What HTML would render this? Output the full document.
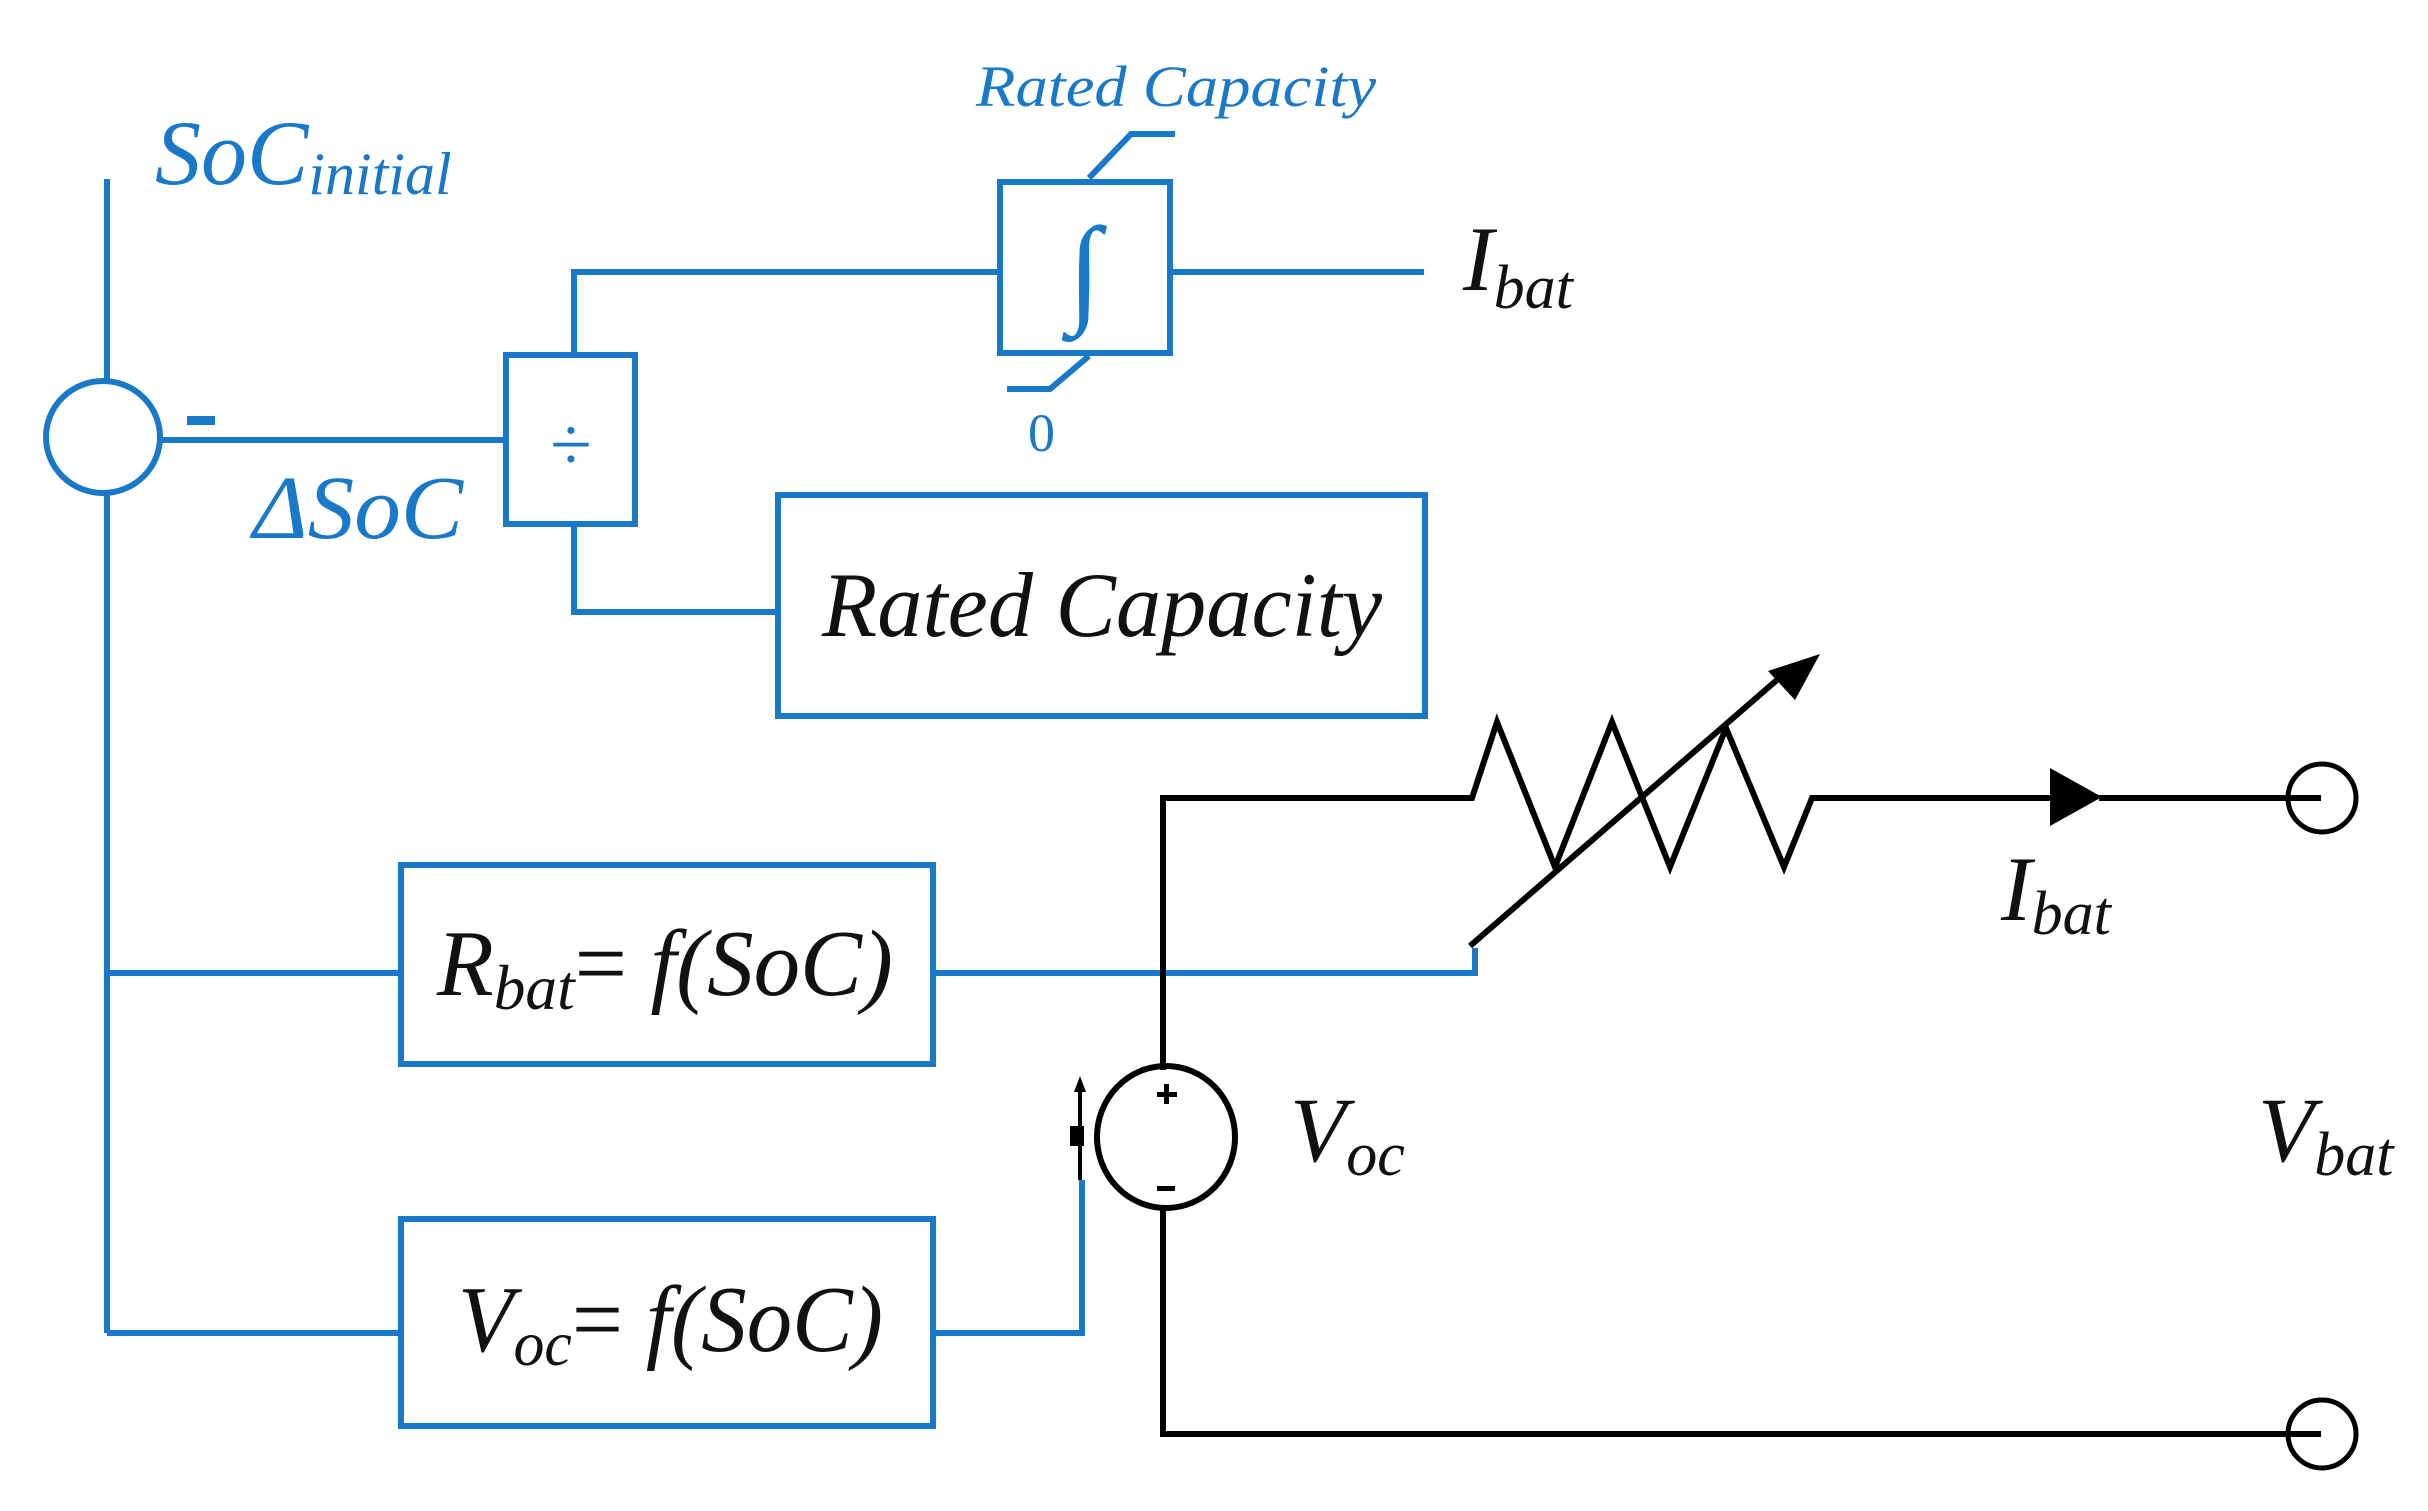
<!DOCTYPE html>
<html><head><meta charset="utf-8"><style>
html,body{margin:0;padding:0;background:#fff;}
svg{display:block;}
text{font-family:"Liberation Serif",serif;font-style:italic;}
</style></head><body>
<svg width="2428" height="1511" viewBox="0 0 2428 1511" xmlns="http://www.w3.org/2000/svg">
<g stroke="#1a78c8" stroke-width="6" fill="none">
  <line x1="107" y1="179" x2="107" y2="381"/>
  <line x1="107" y1="494" x2="107" y2="1333"/>
  <ellipse cx="103" cy="437" rx="57" ry="56"/>
  <line x1="160" y1="440" x2="506" y2="440"/>
  <rect x="506" y="355" width="129" height="169"/>
  <polyline points="574,355 574,272 1000,272"/>
  <rect x="1000" y="182" width="170" height="171"/>
  <polyline points="1089,178 1131,134 1175,134"/>
  <polyline points="1089,356 1050,389 1007,389"/>
  <line x1="1170" y1="272" x2="1424" y2="272"/>
  <polyline points="574,524 574,612 778,612"/>
  <rect x="778" y="495" width="647" height="221"/>
  <line x1="107" y1="973" x2="401" y2="973"/>
  <rect x="401" y="865" width="532" height="199"/>
  <polyline points="933,973 1475,973 1475,948"/>
  <line x1="107" y1="1333" x2="401" y2="1333"/>
  <rect x="401" y="1219" width="532" height="207"/>
  <polyline points="933,1333 1082,1333 1082,1180"/>
</g>
<rect x="187" y="416" width="28" height="9" fill="#1a78c8"/>
<g stroke="#000" stroke-width="6" fill="none">
  <polyline points="1163,1070 1163,798 1472,798 1497,722 1555,867 1612,722 1670,867 1726,728 1784,867 1812,798 2050,798"/>
  <line x1="2099" y1="798" x2="2321" y2="798"/>
  <line x1="1470" y1="946" x2="1785" y2="673"/>
  <polyline points="1163,1210 1163,1434 2321,1434"/>
  <ellipse cx="1166" cy="1137" rx="69" ry="71"/>
  <ellipse cx="2322" cy="798" rx="34" ry="34" stroke-width="5"/>
  <ellipse cx="2322" cy="1434" rx="34" ry="34" stroke-width="5"/>
  <line x1="1080" y1="1180" x2="1080" y2="1085" stroke-width="4"/>
</g>
<polygon points="1820,654 1795,700 1768,671" fill="#000"/>
<polygon points="2050,768 2050,826 2102,797" fill="#000"/>
<polygon points="1080,1076 1074,1092 1086,1092" fill="#000"/>
<rect x="1070" y="1126" width="14" height="20" fill="#000"/>
<g fill="#000">
  <rect x="1157" y="1092" width="20" height="5"/><rect x="1164" y="1084" width="5" height="20"/>
  <rect x="1157" y="1186" width="18" height="5"/>
</g>
<g fill="#1a78c8">
  <text x="155" y="184" font-size="92">SoC<tspan font-size="60" dy="10">initial</tspan></text>
  <text x="976" y="106" font-size="58" textLength="400" lengthAdjust="spacingAndGlyphs">Rated Capacity</text>
  <text x="253" y="538" font-size="90" textLength="210" lengthAdjust="spacingAndGlyphs">ΔSoC</text>
  <text x="1028" y="451" font-size="54" style="font-style:normal">0</text>
  <text x="571" y="470" font-size="76" style="font-style:normal" text-anchor="middle">÷</text>
  <text x="1068" y="310" font-size="120">∫</text>
</g>
<g fill="#111">
  <text x="822" y="636" font-size="92" textLength="560" lengthAdjust="spacingAndGlyphs">Rated Capacity</text>
  <text x="1463" y="290" font-size="92">I<tspan font-size="62" dy="18">bat</tspan></text>
  <text x="437" y="995" font-size="94" textLength="456" lengthAdjust="spacingAndGlyphs">R<tspan font-size="64" dy="14">bat</tspan><tspan dy="-14" style="font-style:normal">= </tspan>f(SoC)</text>
  <text x="458" y="1351" font-size="94" textLength="425" lengthAdjust="spacingAndGlyphs">V<tspan font-size="64" dy="14">oc</tspan><tspan dy="-14" style="font-style:normal">= </tspan>f(SoC)</text>
  <text x="1290" y="1161" font-size="92">V<tspan font-size="62" dy="14">oc</tspan></text>
  <text x="2258" y="1161" font-size="92">V<tspan font-size="62" dy="14">bat</tspan></text>
  <text x="2001" y="920" font-size="92">I<tspan font-size="62" dy="14">bat</tspan></text>
</g>
</svg>
</body></html>
